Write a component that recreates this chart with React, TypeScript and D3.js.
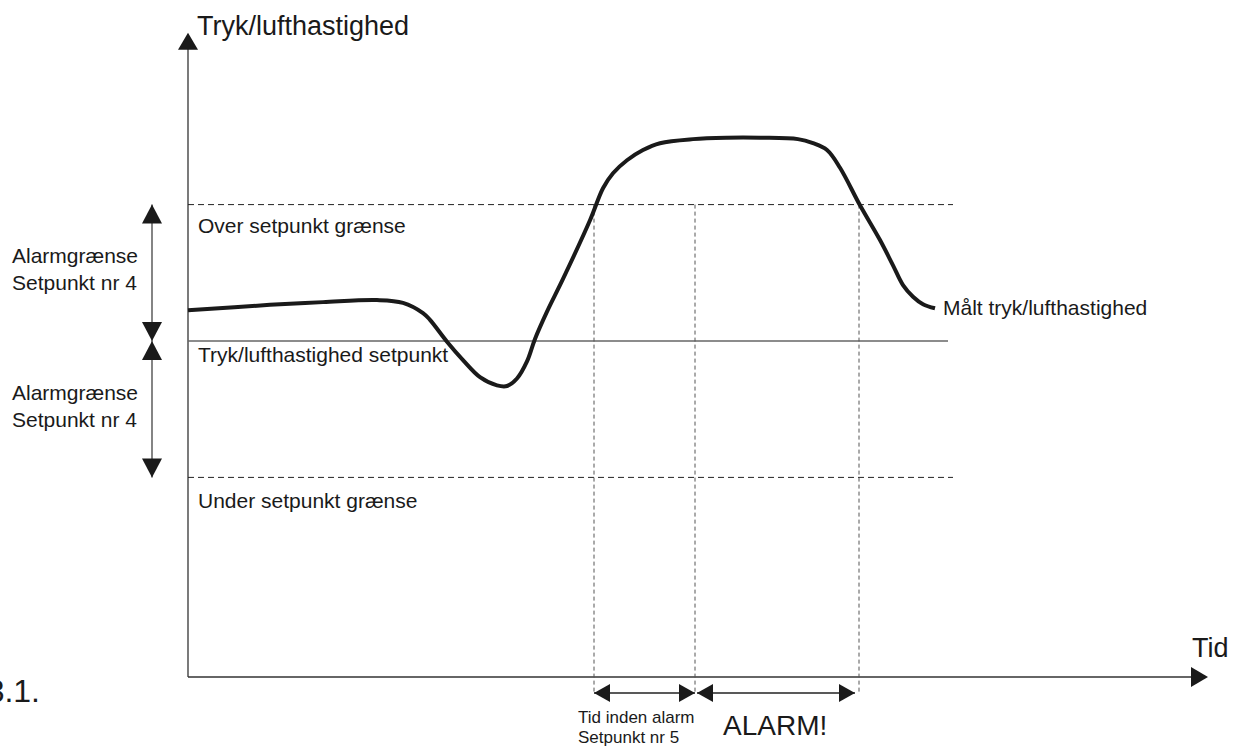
import * as d3 from 'd3';

// Measured curve (time, level)
const curveTime = [0, 8.2, 13.5, 18.9, 21.5, 23.5, 24.2, 25.9, 27.5, 29.2, 30.9, 31.9, 32.9, 33.9, 34.7, 35.9, 37.5, 40.2, 41.5, 42.5, 43.9, 45.5, 47.2, 50.5, 53.9, 57.2, 61.0, 62.5, 63.9, 65.2, 67.2, 69.2, 70.5, 71.5, 72.5, 73.5, 74.7];
const curveLevel = [54.5, 55.3, 55.7, 56.0, 55.6, 54.1, 53.1, 49.9, 47.2, 44.7, 43.5, 43.4, 44.5, 47.0, 50.3, 54.3, 59.1, 67.7, 72.4, 74.6, 76.5, 78.0, 79.0, 79.6, 79.8, 79.8, 79.6, 79.0, 78.0, 75.4, 69.9, 64.8, 61.1, 58.2, 56.5, 55.4, 54.8];

// Reference levels
const levelOver = 70;
const levelSet = 50;
const levelUnder = 30;
const levelLineEnd = 76.5;
const setLineEnd = 76;

// Time markers: crossing over limit, alarm after delay, back under limit
const markTimes = [40.6, 50.7, 67.1];
const alarmArrowEnd = 66.7;

const xAxisEnd = 102;
const yAxisEnd = 95.2;

const titleY = 'Tryk/lufthastighed';
const titleX = 'Tid';
const levelLabels = ['Over setpunkt grænse', 'Tryk/lufthastighed setpunkt', 'Under setpunkt grænse'];
const sideLabel = ['Alarmgrænse', 'Setpunkt nr 4'];
const curveLabel = 'Målt tryk/lufthastighed';
const delayLabel = ['Tid inden alarm', 'Setpunkt nr 5'];
const alarmLabel = 'ALARM!';
const figLabel = '3.1.';

const W = 1242;
const H = 747;
const axisY = 677;
const font = '"Liberation Sans", Arial, sans-serif';
const ink = '#1a1a1a';

function head(tx: number, ty: number, dx: number, dy: number, len: number, hw: number) {
  const bx = tx - dx * len;
  const by = ty - dy * len;
  const px = -dy;
  const py = dx;
  return `M${tx},${ty}L${bx + px * hw},${by + py * hw}L${bx - px * hw},${by - py * hw}Z`;
}

export default function App() {
  const x = d3.scaleLinear().domain([0, 100]).range([188, 1188]);
  const y = d3.scaleLinear().domain([0, 100]).range([682, 0]);

  const pts = curveTime.map((t, i) => [t, curveLevel[i]] as [number, number]);
  const line = d3
    .line<[number, number]>()
    .x((d) => x(d[0]))
    .y((d) => y(d[1]))
    .curve(d3.curveCatmullRom.alpha(0.5));

  const x0 = x(0);
  const xTip = x(xAxisEnd);
  const yTip = y(yAxisEnd);
  const sideX = 152;
  const botY = 693;

  return (
    <div style={{ position: 'fixed', left: 0, top: 0, background: '#fff' }}>
      <svg width={W} height={H} style={{ display: 'block', fontFamily: font }}>
        <rect width={W} height={H} fill="#fff" />

        {/* axes */}
        <line x1={x0} y1={axisY} x2={xTip - 16} y2={axisY} stroke="#333" strokeWidth={1.3} />
        <path d={head(xTip, axisY, 1, 0, 17, 10)} fill={ink} />
        <line x1={x0} y1={axisY} x2={x0} y2={yTip + 16} stroke="#333" strokeWidth={1.3} />
        <path d={head(x0, yTip, 0, -1, 17, 10)} fill={ink} />

        {/* reference levels */}
        <line x1={x0} y1={y(levelOver)} x2={x(levelLineEnd)} y2={y(levelOver)} stroke="#222" strokeWidth={1} strokeDasharray="6,4" />
        <line x1={x0} y1={y(levelSet)} x2={x(setLineEnd)} y2={y(levelSet)} stroke="#666" strokeWidth={1.5} />
        <line x1={x0} y1={y(levelUnder)} x2={x(levelLineEnd)} y2={y(levelUnder)} stroke="#222" strokeWidth={1} strokeDasharray="6,4" />

        {/* time markers */}
        {markTimes.map((t) => (
          <line key={t} x1={x(t)} y1={y(levelOver)} x2={x(t)} y2={botY - 1} stroke="#555" strokeWidth={1} strokeDasharray="4,3" />
        ))}

        {/* measured curve */}
        <path d={line(pts) ?? ''} fill="none" stroke={ink} strokeWidth={4} strokeLinejoin="round" />

        {/* side double arrows */}
        {[
          [levelOver, levelSet],
          [levelSet, levelUnder],
        ].map(([a, b], i) => (
          <g key={i}>
            <line x1={sideX} y1={y(a)} x2={sideX} y2={y(b)} stroke="#333" strokeWidth={1.2} />
            <path d={head(sideX, y(a), 0, -1, 19, 10)} fill={ink} />
            <path d={head(sideX, y(b), 0, 1, 19, 10)} fill={ink} />
          </g>
        ))}

        {/* bottom arrows */}
        {[
          [markTimes[0], markTimes[1]],
          [markTimes[1] + 0.2, alarmArrowEnd],
        ].map(([a, b], i) => (
          <g key={i}>
            <line x1={x(a)} y1={botY} x2={x(b)} y2={botY} stroke="#222" strokeWidth={1.5} />
            <path d={head(x(a), botY, -1, 0, 16, 9)} fill={ink} />
            <path d={head(x(b), botY, 1, 0, 16, 9)} fill={ink} />
          </g>
        ))}

        {/* texts */}
        <g fill={ink}>
          <text x={197} y={35} fontSize={27}>{titleY}</text>
          <text x={1192} y={657} fontSize={27}>{titleX}</text>
          <text x={198} y={233} fontSize={21}>{levelLabels[0]}</text>
          <text x={198} y={362} fontSize={21}>{levelLabels[1]}</text>
          <text x={198} y={508} fontSize={21}>{levelLabels[2]}</text>
          <text x={943} y={315} fontSize={21}>{curveLabel}</text>
          {[263, 400].map((by) => (
            <g key={by}>
              <text x={12} y={by} fontSize={21}>{sideLabel[0]}</text>
              <text x={12} y={by + 27} fontSize={21}>{sideLabel[1]}</text>
            </g>
          ))}
          <text x={578} y={723} fontSize={17}>{delayLabel[0]}</text>
          <text x={578} y={743} fontSize={17}>{delayLabel[1]}</text>
          <text x={723} y={735} fontSize={28}>{alarmLabel}</text>
          <text x={40} y={702} fontSize={32} textAnchor="end">{figLabel}</text>
        </g>
      </svg>
    </div>
  );
}
